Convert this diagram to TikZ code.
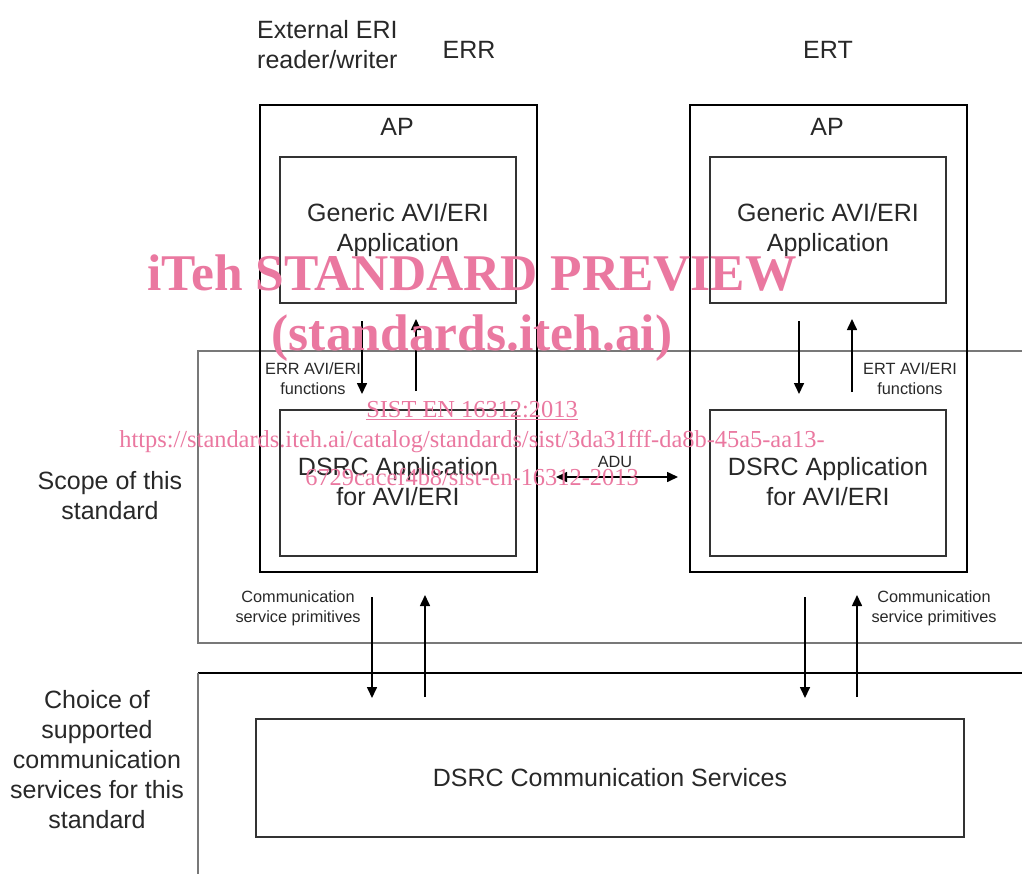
\documentclass[tikz,border=0pt]{standalone}
\usepackage{fontspec}
\setmainfont{Liberation Sans}
\newfontfamily\wmfont{Liberation Serif}
\usetikzlibrary{arrows.meta,calc}
\definecolor{txt}{RGB}{40,40,40}
\definecolor{wm}{RGB}{234,120,160}
\definecolor{scopegray}{RGB}{120,120,120}
\tikzset{
  outerbox/.style={draw=black,line width=2pt},
  innerbox/.style={draw=black!80,line width=1.6pt},
  regionbox/.style={draw=scopegray,line width=1.8pt},
  tip/.style={Triangle[length=11pt,width=10pt]},
  flow/.style={draw=black,line width=1.6pt,-{Triangle[length=11pt,width=10pt]}},
  bigtxt/.style={text=txt,font=\fontsize{25}{30}\selectfont,align=center,inner sep=0pt},
  smalltxt/.style={text=txt,font=\fontsize{16.3}{20}\selectfont,align=center,inner sep=0pt},
  wmbig/.style={text=wm,font=\wmfont\bfseries\fontsize{51.5}{55}\selectfont,inner sep=0pt},
  wmsmall/.style={text=wm,font=\wmfont\fontsize{24.4}{28}\selectfont,inner sep=0pt},
}
\begin{document}
\begin{tikzpicture}[x=1pt,y=-1pt]
\useasboundingbox (0,0) rectangle (1022,873);
% region boxes
\draw[regionbox] (1030,351) -- (198,351) -- (198,643) -- (1030,643);
\draw[draw=black,line width=1.6pt] (1030,673) -- (198,673);
\draw[regionbox] (198,673) -- (198,880);
% outer boxes
\node[outerbox,minimum width=277pt,minimum height=467pt,inner sep=0pt] (err) at (398.5,338.5) {};
\node[outerbox,minimum width=277pt,minimum height=467pt,inner sep=0pt] (ert) at (828.5,338.5) {};
% inner boxes
\node[innerbox,minimum width=236pt,minimum height=146pt,inner sep=0pt] (gl) at (398,230) {};
\node[innerbox,minimum width=236pt,minimum height=146pt,inner sep=0pt] (dl) at (398,483) {};
\node[innerbox,minimum width=236pt,minimum height=146pt,inner sep=0pt] (gr) at (828,230) {};
\node[innerbox,minimum width=236pt,minimum height=146pt,inner sep=0pt] (dr) at (828,483) {};
\node[innerbox,minimum width=708pt,minimum height=118pt,inner sep=0pt] (cs) at (610,778) {};
% texts
\node[bigtxt,align=left,anchor=west] (ext) at (257,45) {External ERI\\reader/writer};
\node[bigtxt] (errl) at (469,50) {ERR};
\node[bigtxt] (ertl) at (828,50) {ERT};
\node[bigtxt] (apl) at (397,127) {AP};
\node[bigtxt] (apr) at (827,127) {AP};
\node[bigtxt] at (gl) {Generic AVI/ERI\\Application};
\node[bigtxt] at (gr) {Generic AVI/ERI\\Application};
\node[bigtxt] at ($(dl)+(0,-1)$) {DSRC Application\\for AVI/ERI};
\node[bigtxt] at ($(dr)+(0,-1)$) {DSRC Application\\for AVI/ERI};
\node[bigtxt] at (cs) {DSRC Communication Services};
\node[bigtxt] (scope) at (110,496) {Scope of this\\standard};
\node[bigtxt] (choice) at (97,760) {Choice of\\supported\\communication\\services for this\\standard};
\node[smalltxt] (fl) at (313,379) {ERR AVI/ERI\\functions};
\node[smalltxt] (fr) at (910,379) {ERT AVI/ERI\\functions};
\node[smalltxt] (cl) at (298,608) {Communication\\service primitives};
\node[smalltxt] (cr) at (934,608) {Communication\\service primitives};
\node[smalltxt] (adu) at (615,462) {ADU};
% arrow coordinates
\coordinate (a1s) at (362,321); \coordinate (a1e) at (362,394);
\coordinate (a2s) at (416,391); \coordinate (a2e) at (416,319);
\coordinate (a3s) at (799,321); \coordinate (a3e) at (799,394);
\coordinate (a4s) at (852,392); \coordinate (a4e) at (852,319);
\coordinate (b1s) at (372,597); \coordinate (b1e) at (372,698);
\coordinate (b2s) at (425,697); \coordinate (b2e) at (425,595);
\coordinate (b3s) at (805,597); \coordinate (b3e) at (805,698);
\coordinate (b4s) at (857,697); \coordinate (b4e) at (857,595);
\coordinate (adl) at (556,477); \coordinate (adr) at (678,477);
\draw[flow] (a1s) -- (a1e);
\draw[flow] (a2s) -- (a2e);
\draw[flow] (a3s) -- (a3e);
\draw[flow] (a4s) -- (a4e);
\draw[flow] (b1s) -- (b1e);
\draw[flow] (b2s) -- (b2e);
\draw[flow] (b3s) -- (b3e);
\draw[flow] (b4s) -- (b4e);
\draw[draw=black,line width=1.6pt,{Triangle[length=11pt,width=10pt]}-{Triangle[length=11pt,width=10pt]}] (adl) -- (adr);
% watermark
\node[wmbig] (wm1) at (472,273) {iTeh STANDARD PREVIEW};
\node[wmbig] (wm2) at (472,338) {(standards.iteh.ai)};
\node[wmsmall] (wm3) at (472,411) {\underline{SIST EN 16312:2013}};
\node[wmsmall] (wm4) at (472,442) {https://standards.iteh.ai/catalog/standards/sist/3da31fff-da8b-45a5-aa13-};
\node[wmsmall] (wm5) at (472,477) {6729cacef4b8/sist-en-16312-2013};
\end{tikzpicture}
\end{document}
